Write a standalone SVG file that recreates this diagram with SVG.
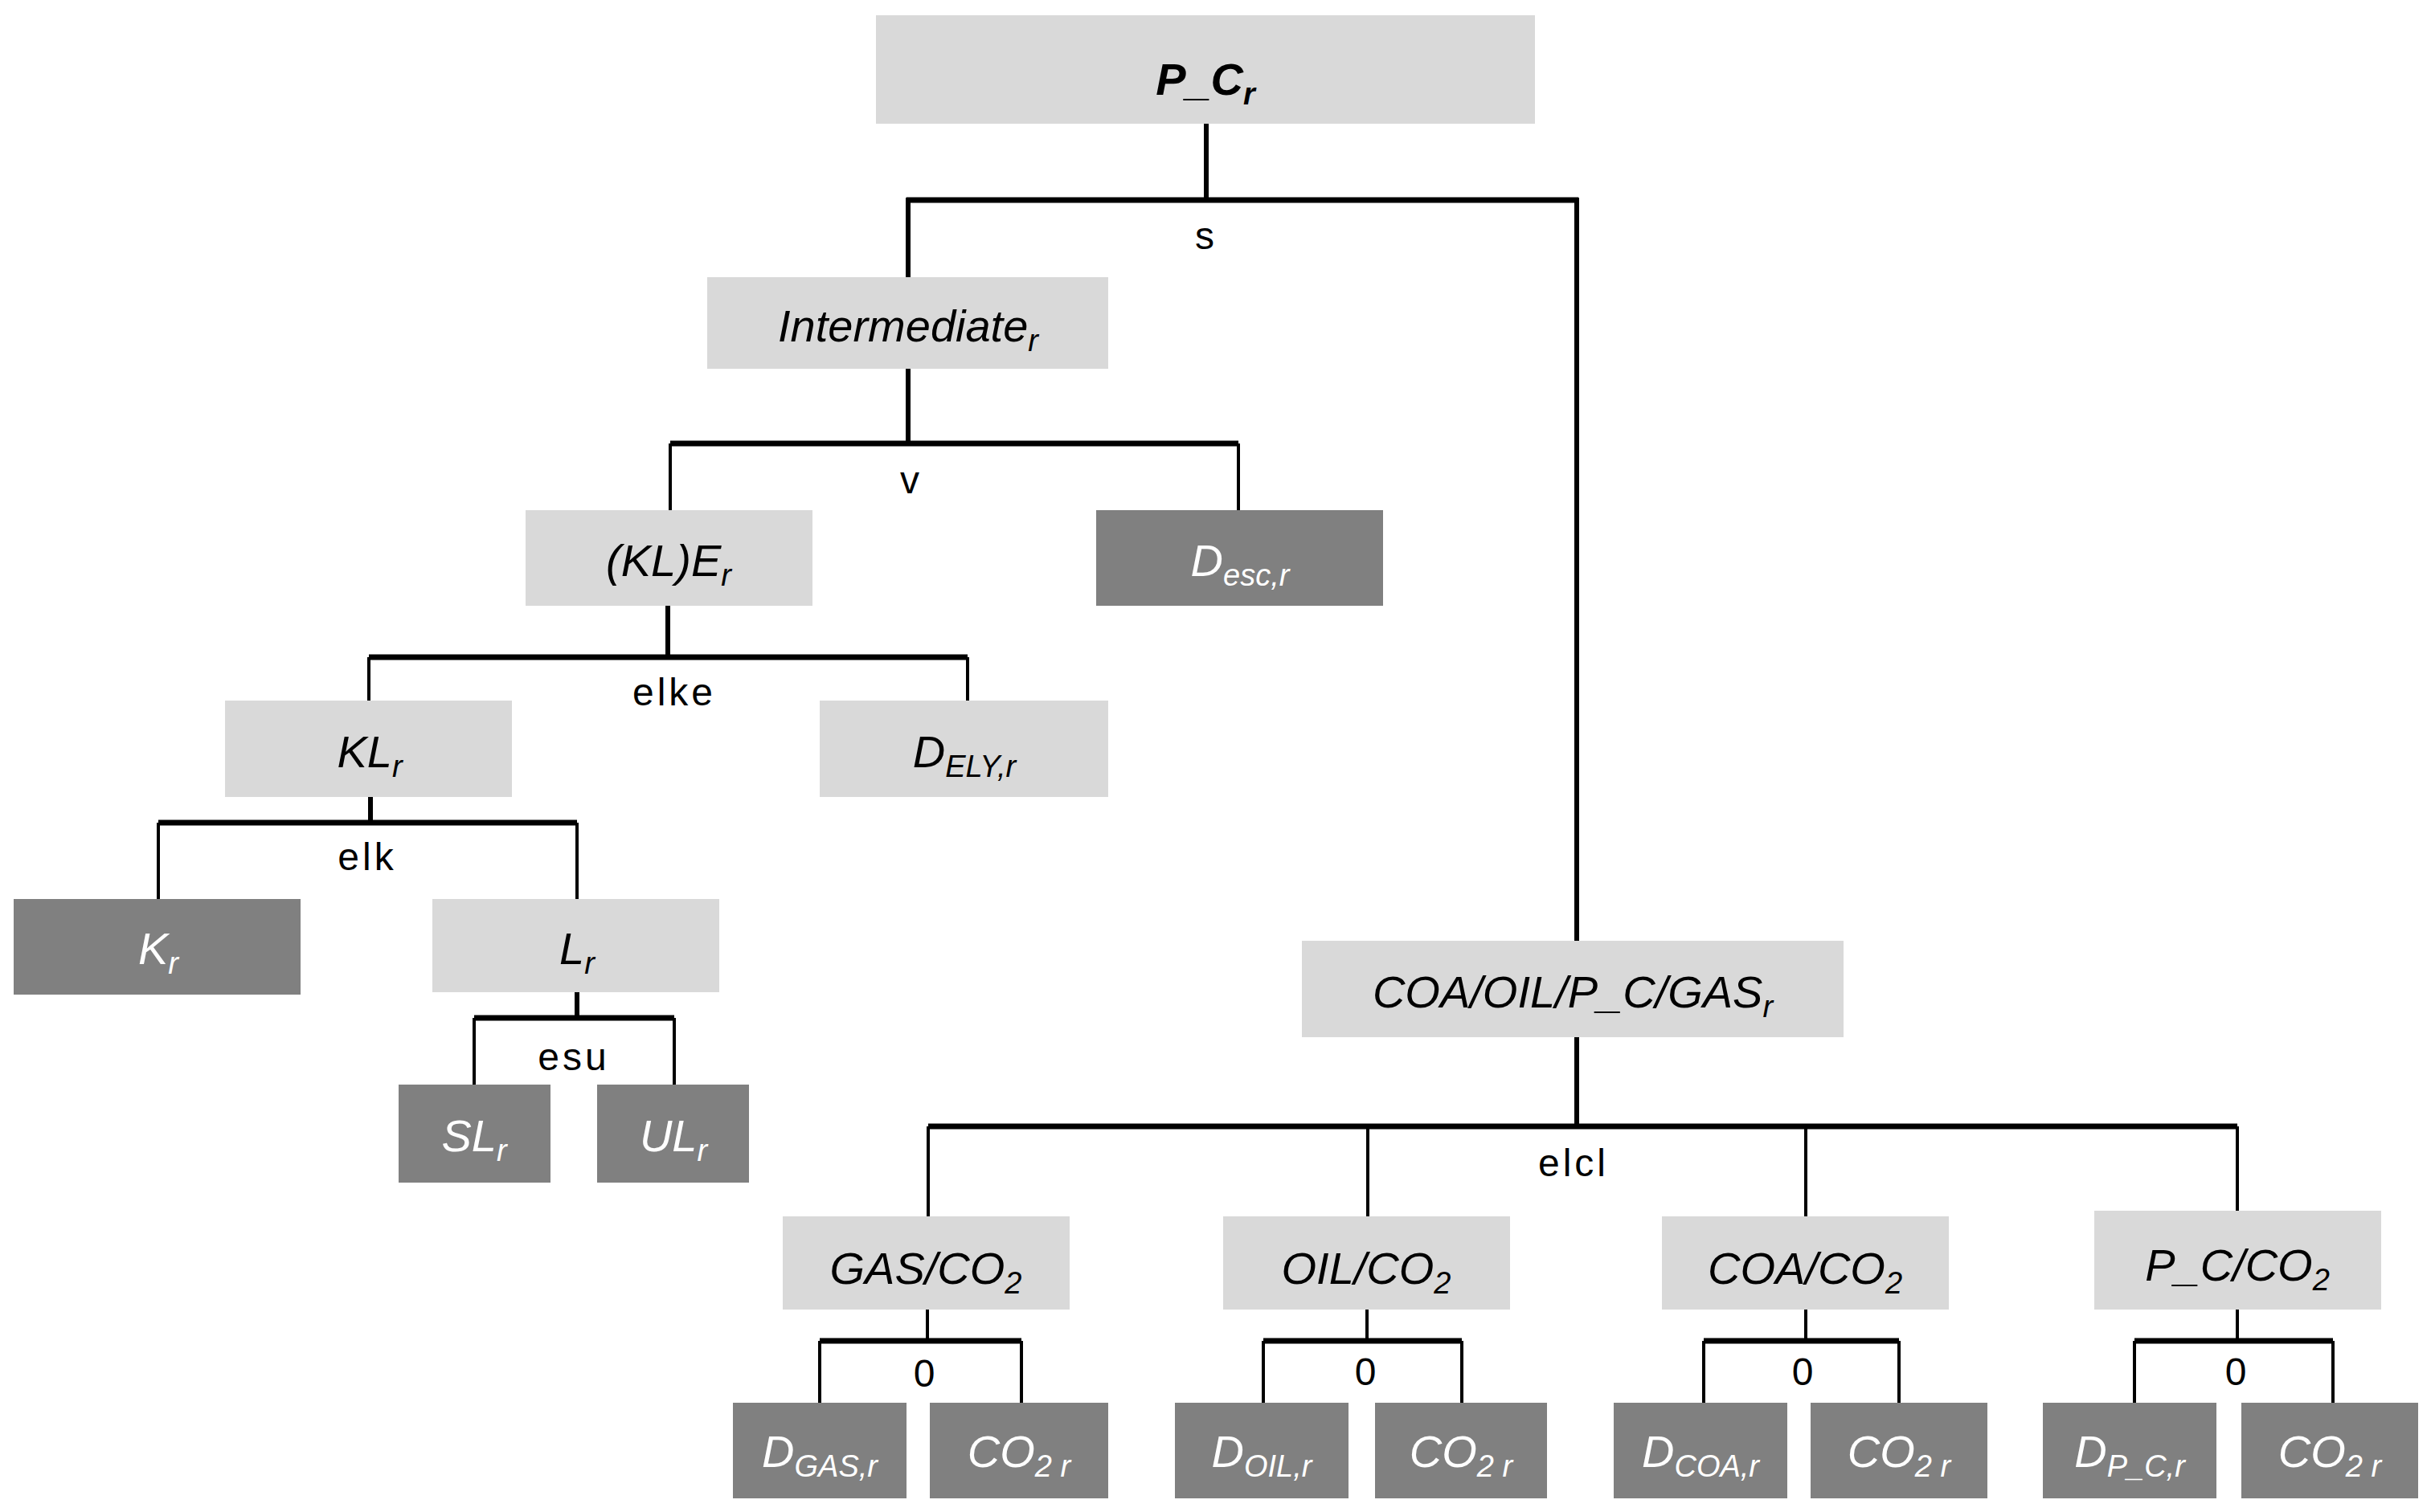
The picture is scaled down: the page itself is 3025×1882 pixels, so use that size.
<svg xmlns="http://www.w3.org/2000/svg" width="3025" height="1882" viewBox="0 0 3025 1882">
<style>
.l{fill:#d9d9d9}.d{fill:#808080}
text{font-family:"Liberation Sans",Arial,sans-serif;text-anchor:middle}
.t{font-style:italic;font-size:56px;fill:#000}.w{font-style:italic;font-size:56px;fill:#fff}
.s{font-size:38px}
.lab{font-size:48px;letter-spacing:4px;fill:#000}
.h{stroke:#000;stroke-width:7;fill:none}.v{stroke:#000;stroke-width:4;fill:none}.st{stroke:#000;stroke-width:6;fill:none}
</style>
<rect width="3025" height="1882" fill="#fff"/>
<g id="connectors">
<path class="st" d="M1501 154V250M1130 345V249H1962V1171"/><path class="h" d="M1128 249H1964"/><path class="v" d="M1130 249V345"/>
<path class="st" d="M1130 459V552"/><path class="h" d="M834 552H1541"/><path class="v" d="M834 552V635M1541 552V635"/>
<path class="st" d="M831 754V818"/><path class="h" d="M459 818H1204"/><path class="v" d="M459 818V872M1204 818V872"/>
<path class="st" d="M461 992V1024"/><path class="h" d="M197 1024H718"/><path class="v" d="M197 1024V1119M718 1024V1119"/>
<path class="st" d="M718 1235V1267"/><path class="h" d="M590 1267H839"/><path class="v" d="M590 1267V1350M839 1267V1350"/>
<path class="st" d="M1962 1291V1402"/><path class="h" d="M1155 1402H2784"/><path class="v" d="M1155 1402V1514M1702 1402V1514M2247 1402V1514M2784 1402V1507"/>
<path class="v" d="M1154 1630V1669M1701 1630V1669M2247 1630V1669M2784 1630V1669"/>
<path class="h" d="M1020 1669H1271M1572 1669H1819M2120 1669H2363M2656 1669H2903"/>
<path class="v" d="M1020 1669V1746M1271 1669V1746M1572 1669V1746M1819 1669V1746M2120 1669V1746M2363 1669V1746M2656 1669V1746M2903 1669V1746"/>
<text class="lab" x="1501" y="310">s</text>
<text class="lab" x="1134" y="614">v</text>
<text class="lab" x="839" y="878">elke</text>
<text class="lab" x="457" y="1083">elk</text>
<text class="lab" x="714" y="1332">esu</text>
<text class="lab" x="1958" y="1464">elcl</text>
<text class="lab" x="1152" y="1726">0</text>
<text class="lab" x="1701" y="1724">0</text>
<text class="lab" x="2245" y="1724">0</text>
<text class="lab" x="2784" y="1724">0</text>
</g>
<g id="pc"><rect class="l" x="1090" y="19" width="820" height="135"/><text class="t" x="1500" y="118" font-weight="bold" font-size="62">P_C<tspan class="s" dy="12">r</tspan></text></g>
<g id="int"><rect class="l" x="880" y="345" width="499" height="114"/><text class="t" x="1130" y="425">Intermediate<tspan class="s" dy="12">r</tspan></text></g>
<g id="kle"><rect class="l" x="654" y="635" width="357" height="119"/><text class="t" x="832" y="717">(KL)E<tspan class="s" dy="12">r</tspan></text></g>
<g id="desc"><rect class="d" x="1364" y="635" width="357" height="119"/><text class="w" x="1543" y="717">D<tspan class="s" dy="12">esc,r</tspan></text></g>
<g id="kl"><rect class="l" x="280" y="872" width="357" height="120"/><text class="t" x="460" y="955">KL<tspan class="s" dy="12">r</tspan></text></g>
<g id="dely"><rect class="l" x="1020" y="872" width="359" height="120"/><text class="t" x="1200" y="955">D<tspan class="s" dy="12">ELY,r</tspan></text></g>
<g id="k"><rect class="d" x="17" y="1119" width="357" height="119"/><text class="w" x="197" y="1200">K<tspan class="s" dy="12">r</tspan></text></g>
<g id="lr"><rect class="l" x="538" y="1119" width="357" height="116"/><text class="t" x="718" y="1200">L<tspan class="s" dy="12">r</tspan></text></g>
<g id="sl"><rect class="d" x="496" y="1350" width="189" height="122"/><text class="w" x="590" y="1433">SL<tspan class="s" dy="12">r</tspan></text></g>
<g id="ul"><rect class="d" x="743" y="1350" width="189" height="122"/><text class="w" x="838" y="1433">UL<tspan class="s" dy="12">r</tspan></text></g>
<g id="coa"><rect class="l" x="1620" y="1171" width="674" height="120"/><text class="t" x="1957" y="1254">COA/OIL/P_C/GAS<tspan class="s" dy="12">r</tspan></text></g>
<g id="gasco2"><rect class="l" x="974" y="1514" width="357" height="116"/><text class="t" x="1152" y="1598">GAS/CO<tspan class="s" dy="12">2</tspan></text></g>
<g id="oilco2"><rect class="l" x="1522" y="1514" width="357" height="116"/><text class="t" x="1700" y="1598">OIL/CO<tspan class="s" dy="12">2</tspan></text></g>
<g id="coaco2"><rect class="l" x="2068" y="1514" width="357" height="116"/><text class="t" x="2246" y="1598">COA/CO<tspan class="s" dy="12">2</tspan></text></g>
<g id="pcco2"><rect class="l" x="2606" y="1507" width="357" height="123"/><text class="t" x="2784" y="1594">P_C/CO<tspan class="s" dy="12">2</tspan></text></g>
<g id="dgas"><rect class="d" x="912" y="1746" width="216" height="119"/><text class="w" x="1020" y="1826">D<tspan class="s" dy="12">GAS,r</tspan></text></g>
<g id="co2a"><rect class="d" x="1157" y="1746" width="222" height="119"/><text class="w" x="1268" y="1826">CO<tspan class="s" dy="12">2 r</tspan></text></g>
<g id="doil"><rect class="d" x="1462" y="1746" width="216" height="119"/><text class="w" x="1570" y="1826">D<tspan class="s" dy="12">OIL,r</tspan></text></g>
<g id="co2b"><rect class="d" x="1711" y="1746" width="214" height="119"/><text class="w" x="1818" y="1826">CO<tspan class="s" dy="12">2 r</tspan></text></g>
<g id="dcoa"><rect class="d" x="2008" y="1746" width="216" height="119"/><text class="w" x="2116" y="1826">D<tspan class="s" dy="12">COA,r</tspan></text></g>
<g id="co2c"><rect class="d" x="2253" y="1746" width="220" height="119"/><text class="w" x="2363" y="1826">CO<tspan class="s" dy="12">2 r</tspan></text></g>
<g id="dpc"><rect class="d" x="2542" y="1746" width="216" height="119"/><text class="w" x="2650" y="1826">D<tspan class="s" dy="12">P_C,r</tspan></text></g>
<g id="co2d"><rect class="d" x="2789" y="1746" width="220" height="119"/><text class="w" x="2899" y="1826">CO<tspan class="s" dy="12">2 r</tspan></text></g>
</svg>
